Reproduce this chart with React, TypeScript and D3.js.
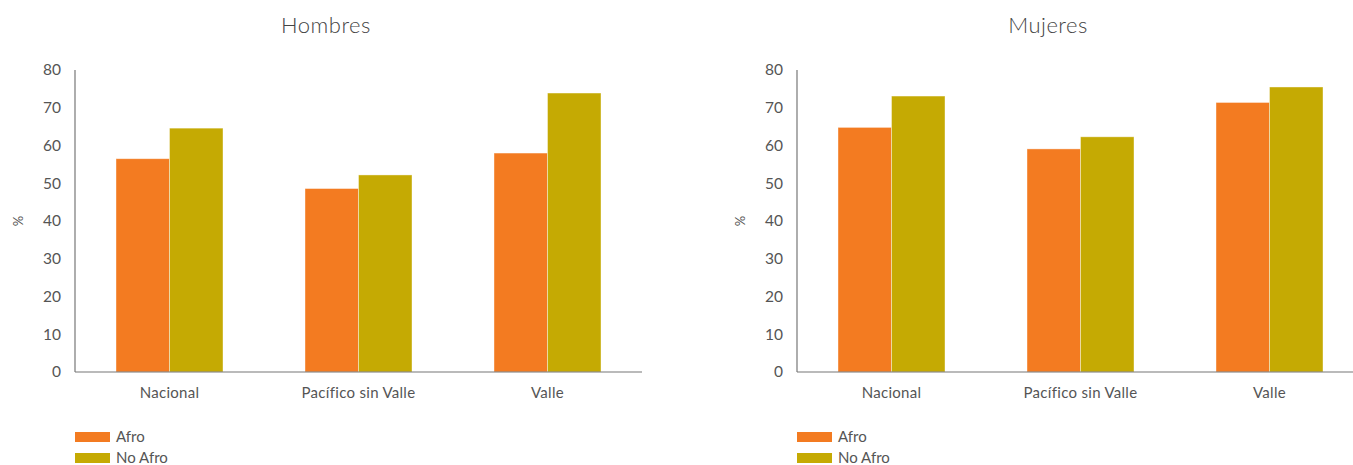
import React from "react";
import * as d3 from "d3";

const categories = ["Nacional", "Pacífico sin Valle", "Valle"];
const seriesNames = ["Afro", "No Afro"];
const hombresAfro = [56.5, 48.6, 58.0];
const hombresNoAfro = [64.6, 52.2, 73.9];
const mujeresAfro = [64.8, 59.1, 71.4];
const mujeresNoAfro = [73.1, 62.3, 75.5];
const yTicks = [0, 10, 20, 30, 40, 50, 60, 70, 80];
const colors = ["#F37B21", "#C5AA03"];

const W = 1353;
const H = 465;
const FONT = "Lato, 'Open Sans', sans-serif";

function Panel({ x0, title, titleX, afro, noAfro }: { x0: number; title: string; titleX: number; afro: number[]; noAfro: number[] }) {
  const x = d3.scaleBand<string>().domain(categories).range([x0, x0 + 567]).paddingInner(0).paddingOuter(0);
  const y = d3.scaleLinear().domain([0, 80]).range([372, 70]);
  const pairW = 107;
  const sub = d3.scaleBand<string>().domain(seriesNames).range([0, pairW]).padding(0);
  const vals = [afro, noAfro];
  return (
    <g>
      <text x={titleX} y={33} textAnchor="middle" fontSize={22} fontWeight={300} fill="#444" fontFamily={FONT} letterSpacing={0.5}>{title}</text>
      <line x1={x0} x2={x0} y1={y(80)} y2={y(0)} stroke="#777" strokeWidth={1.2} />
      {yTicks.map((t) => (
        <text key={t} x={x0 - 14} y={y(t)} dy="0.35em" textAnchor="end" fontSize={15.5} fill="#555" fontFamily={FONT}>{t}</text>
      ))}
      <text transform={`translate(${x0 - 57},${y(40)}) rotate(-90)`} textAnchor="middle" dy="0.35em" fontSize={13} fill="#555" fontFamily={FONT}>%</text>
      {categories.map((c, i) => {
        const cx = (x(c) as number) + x.bandwidth() / 2;
        const left = cx - pairW / 2;
        return (
          <g key={c}>
            {seriesNames.map((s, j) => (
              <rect key={s} x={left + (sub(s) as number)} y={y(vals[j][i])} width={sub.bandwidth()} height={y(0) - y(vals[j][i])} fill={colors[j]} stroke="#fff" strokeOpacity={0.5} strokeWidth={0.8} />
            ))}
            <text x={cx} y={398} textAnchor="middle" fontSize={15} fill="#555" fontFamily={FONT} letterSpacing={0.3}>{c}</text>
          </g>
        );
      })}
      <line x1={x0} x2={x0 + 567} y1={y(0)} y2={y(0)} stroke="#777" strokeWidth={1.2} />
      {seriesNames.map((s, j) => (
        <g key={s}>
          <rect x={x0} y={432 + j * 21} width={35} height={10} fill={colors[j]} />
          <text x={x0 + 41} y={437 + j * 21} dy="0.35em" fontSize={15} fill="#555" fontFamily={FONT}>{s}</text>
        </g>
      ))}
    </g>
  );
}

export default function App() {
  return (
    <svg width={W} height={H} style={{ position: "absolute", left: 0, top: 0, background: "#fff" }}>
      <Panel x0={75} title="Hombres" titleX={326} afro={hombresAfro} noAfro={hombresNoAfro} />
      <Panel x0={797} title="Mujeres" titleX={1048} afro={mujeresAfro} noAfro={mujeresNoAfro} />
    </svg>
  );
}
